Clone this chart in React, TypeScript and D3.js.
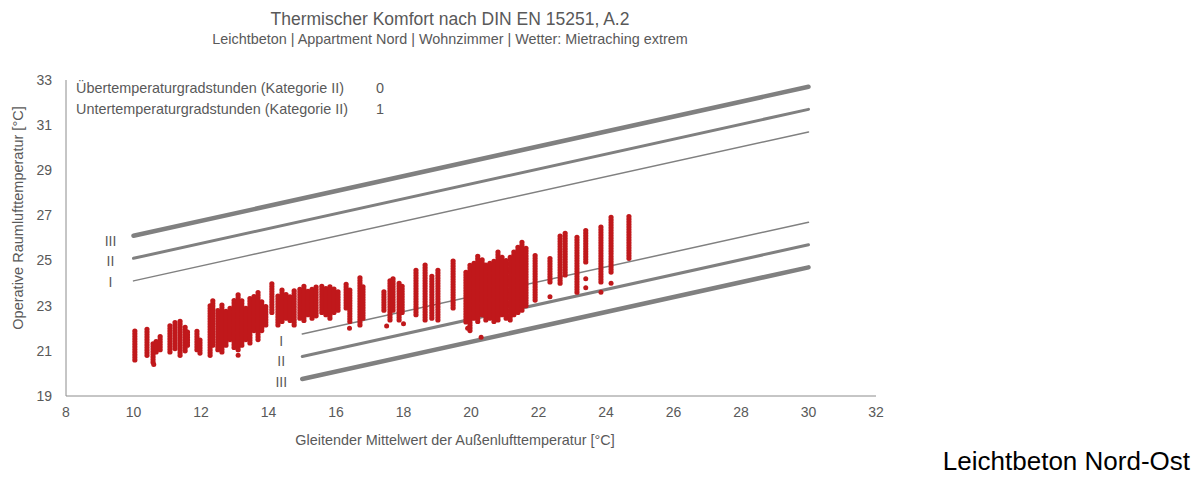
import React from "react";
import * as d3 from "d3";

const xTicks = [8, 10, 12, 14, 16, 18, 20, 22, 24, 26, 28, 30, 32];
const yTicks = [19, 21, 23, 25, 27, 29, 31, 33];

const categories = ["I", "II", "III"];
const upperX = [10, 30];
const upperI = [24.1, 30.7];
const upperII = [25.1, 31.7];
const upperIII = [26.1, 32.7];
const lowerX = [15, 30];
const lowerI = [21.75, 26.7];
const lowerII = [20.75, 25.7];
const lowerIII = [19.75, 24.7];

const legendLabels = [
  "Übertemperaturgradstunden (Kategorie II)",
  "Untertemperaturgradstunden (Kategorie II)",
];
const legendValues = [0, 1];

// hourly values grouped by day: [running mean outdoor temp, lowest, highest]
const dayColumns: [number, number, number][] = [
  [10.04, 20.6, 21.9], [10.4, 20.8, 22.05], [10.58, 20.5, 21.35], [10.67, 20.95, 21.5],
  [10.79, 21.05, 21.7], [11.08, 20.95, 22.15], [11.23, 21.1, 22.3], [11.38, 20.8, 22.35],
  [11.53, 21.0, 22.1], [11.6, 21.25, 21.9], [11.88, 21.05, 21.9], [11.97, 20.9, 21.5],
  [12.27, 20.8, 23.0], [12.35, 21.25, 23.25], [12.5, 21.05, 22.8], [12.62, 20.95, 23.1],
  [12.74, 21.25, 22.8], [12.86, 21.5, 23.0], [12.98, 21.15, 23.25], [13.1, 21.05, 23.5],
  [13.21, 21.25, 23.25], [13.33, 21.5, 23.0], [13.45, 21.35, 23.35], [13.57, 21.9, 23.5],
  [13.69, 21.5, 23.6], [13.8, 21.9, 23.25], [13.92, 22.15, 23.0], [14.1, 22.7, 24.0],
  [14.28, 22.15, 23.5], [14.4, 22.3, 23.7], [14.52, 22.45, 23.6], [14.64, 22.35, 23.5],
  [14.76, 22.15, 23.7], [14.93, 22.45, 23.8], [15.05, 22.35, 23.9], [15.17, 22.6, 23.7],
  [15.29, 22.45, 23.8], [15.41, 22.55, 23.85], [15.58, 22.7, 23.9], [15.7, 22.6, 23.85],
  [15.82, 22.45, 23.9], [15.94, 22.7, 23.8], [16.06, 22.8, 23.7], [16.3, 22.9, 24.0],
  [16.41, 22.3, 23.7], [16.71, 22.15, 24.25], [16.8, 22.45, 23.9], [17.42, 22.8, 23.7],
  [17.6, 22.37, 24.2], [17.69, 22.8, 24.27], [17.87, 22.37, 24.0], [17.96, 22.7, 23.9],
  [18.37, 22.6, 24.67], [18.64, 22.37, 24.8], [18.84, 22.45, 24.35], [19.02, 22.37, 24.58],
  [19.47, 22.9, 25.0], [19.85, 22.28, 24.5], [19.97, 21.9, 24.8], [20.09, 22.45, 24.95],
  [20.2, 22.3, 25.25], [20.33, 22.6, 25.1], [20.44, 22.37, 24.8], [20.56, 22.45, 24.95],
  [20.68, 22.3, 25.0], [20.8, 22.37, 25.47], [20.92, 22.6, 25.25], [21.04, 22.45, 25.1],
  [21.16, 22.37, 25.25], [21.27, 22.6, 25.4], [21.39, 22.7, 25.7], [21.51, 22.8, 25.9],
  [21.63, 23.0, 25.55], [21.9, 23.25, 25.25], [22.34, 24.05, 25.1], [22.64, 24.0, 26.13],
  [22.79, 24.36, 26.27], [23.14, 23.6, 26.05], [23.4, 24.94, 26.35], [23.85, 24.05, 26.58],
  [24.15, 24.49, 27.0], [24.68, 25.1, 27.0],
];

const singlePoints: [number, number][] = [
  [17.5, 22.1], [16.4, 22.0], [19.9, 22.0], [20.3, 21.6], [23.4, 24.2],
  [23.4, 23.8], [23.85, 23.6], [24.15, 24.0], [22.34, 23.4], [18.0, 22.2],
  [13.1, 20.8], [10.6, 20.4],
];

const W = 1200;
const H = 477;
const gray = "#595959";
const lineGray = "#808080";
const red = "#C0181B";
const font = "'Liberation Sans', Arial, sans-serif";

export default function App() {
  const x = d3.scaleLinear().domain([8, 32]).range([66, 876]);
  const y = d3.scaleLinear().domain([19, 33]).range([396, 80]);

  const upper = [upperI, upperII, upperIII];
  const lower = [lowerI, lowerII, lowerIII];
  const widths = [1.5, 3, 4.5];

  return (
    <svg
      width={W}
      height={H}
      style={{ position: "fixed", left: 0, top: 0, background: "#fff" }}
      fontFamily={font}
    >
      <text x={450} y={25} textAnchor="middle" fontSize={17.5} fill={gray}>
        Thermischer Komfort nach DIN EN 15251, A.2
      </text>
      <text x={450} y={44} textAnchor="middle" fontSize={14.4} fill={gray}>
        Leichtbeton | Appartment Nord | Wohnzimmer | Wetter: Mietraching extrem
      </text>

      {/* axes */}
      <line x1={x(8)} x2={x(8)} y1={y(33)} y2={y(19)} stroke="#8c8c8c" strokeWidth={1} />
      <line x1={x(8)} x2={x(32)} y1={y(19)} y2={y(19)} stroke="#8c8c8c" strokeWidth={1} />

      {yTicks.map((t) => (
        <text key={"y" + t} x={52} y={y(t)} dy="0.35em" textAnchor="end" fontSize={14} fill={gray}>
          {t}
        </text>
      ))}
      {xTicks.map((t) => (
        <text key={"x" + t} x={x(t)} y={417} textAnchor="middle" fontSize={14} fill={gray}>
          {t}
        </text>
      ))}

      <text x={455} y={445} textAnchor="middle" fontSize={14.4} fill={gray}>
        Gleitender Mittelwert der Außenlufttemperatur [°C]
      </text>
      <text
        transform={`translate(23,218) rotate(-90)`}
        textAnchor="middle"
        fontSize={14.5}
        fill={gray}
      >
        Operative Raumlufttemperatur [°C]
      </text>

      {/* legend table */}
      {legendLabels.map((l, i) => (
        <g key={l}>
          <text x={76} y={93 + i * 21} fontSize={14.4} fill={gray}>
            {l}
          </text>
          <text x={376} y={93 + i * 21} fontSize={14.4} fill={gray}>
            {legendValues[i]}
          </text>
        </g>
      ))}

      {/* comfort lines */}
      {upper.map((v, i) => (
        <line
          key={"u" + i}
          x1={x(upperX[0])}
          y1={y(v[0])}
          x2={x(upperX[1])}
          y2={y(v[1])}
          stroke={lineGray}
          strokeWidth={widths[i]}
          strokeLinecap="round"
        />
      ))}
      {lower.map((v, i) => (
        <line
          key={"l" + i}
          x1={x(lowerX[0])}
          y1={y(v[0])}
          x2={x(lowerX[1])}
          y2={y(v[1])}
          stroke={lineGray}
          strokeWidth={widths[i]}
          strokeLinecap="round"
        />
      ))}
      {upper.map((v, i) => (
        <text
          key={"ut" + i}
          x={x(upperX[0]) - 23}
          y={y(v[0]) + 1 + i * 2}
          dy="0.35em"
          textAnchor="middle"
          fontSize={14}
          fill={gray}
        >
          {categories[i]}
        </text>
      ))}
      {lower.map((v, i) => (
        <text
          key={"lt" + i}
          x={x(lowerX[0]) - 21}
          y={y(v[0]) + 7 - i * 2}
          dy="0.35em"
          textAnchor="middle"
          fontSize={14}
          fill={gray}
        >
          {categories[i]}
        </text>
      ))}

      {/* scatter */}
      {dayColumns.map((c, i) => (
        <line
          key={"c" + i}
          x1={x(c[0])}
          x2={x(c[0])}
          y1={y(c[1])}
          y2={y(c[2])}
          stroke={red}
          strokeWidth={5.2}
          strokeLinecap="round"
          strokeDasharray="0.01 2.6"
        />
      ))}
      {singlePoints.map((p, i) => (
        <circle key={"p" + i} cx={x(p[0])} cy={y(p[1])} r={2.5} fill={red} />
      ))}

      <text x={1190} y={470} textAnchor="end" fontSize={26} fill="#000">
        Leichtbeton Nord-Ost
      </text>
    </svg>
  );
}
